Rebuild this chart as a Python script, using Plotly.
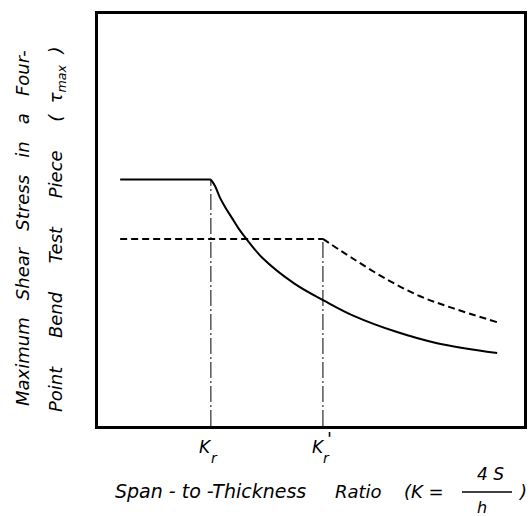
import plotly.graph_objects as go

# Values (arbitrary units: axis 0..100 both ways)
solid_k = [5.2, 26.5, 27.5, 28.6, 29.8, 31.5, 32.9, 35.0, 38.5, 46.2, 53.3, 59.9, 70.2, 79.6, 93.7]
solid_tau = [59.8, 59.8, 58.2, 55.5, 53.2, 50.4, 48.1, 45.2, 40.9, 34.5, 30.3, 26.8, 22.8, 20.1, 17.7]

dashed_k = [5.2, 52.8, 59.9, 67.8, 75.6, 83.3, 93.7]
dashed_tau = [45.4, 45.4, 40.6, 35.6, 31.5, 28.6, 25.2]

kr = 26.5
kr_prime = 52.8
kr_top = 59.8
kr_prime_top = 45.4

FONT = "DejaVu Sans"
W, H = 530, 516
L, R, T, B = 98, 6, 14, 90
pw, ph = W - L - R, H - T - B


def px_x(p):
    return (p - L) / pw


def px_y(p):
    return (H - B - p) / ph


fig = go.Figure()

# flat parts (linear) and falling parts (smooth)
fig.add_trace(go.Scatter(x=solid_k[:2], y=solid_tau[:2], mode="lines",
                         line=dict(color="black", width=2),
                         showlegend=False, hoverinfo="skip"))
fig.add_trace(go.Scatter(x=solid_k[1:], y=solid_tau[1:], mode="lines",
                         line=dict(color="black", width=2, shape="spline", smoothing=1.0),
                         showlegend=False, hoverinfo="skip"))
fig.add_trace(go.Scatter(x=dashed_k[:2], y=dashed_tau[:2], mode="lines",
                         line=dict(color="black", width=2, dash="7px,4px"),
                         showlegend=False, hoverinfo="skip"))
fig.add_trace(go.Scatter(x=dashed_k[1:], y=dashed_tau[1:], mode="lines",
                         line=dict(color="black", width=2, dash="7px,4px", shape="spline", smoothing=1.0),
                         showlegend=False, hoverinfo="skip"))
fig.add_trace(go.Scatter(x=[kr, kr], y=[0, kr_top], mode="lines",
                         line=dict(color="black", width=1, dash="16px,3px,2px,3px"),
                         showlegend=False, hoverinfo="skip"))
fig.add_trace(go.Scatter(x=[kr_prime, kr_prime], y=[0, kr_prime_top], mode="lines",
                         line=dict(color="black", width=1, dash="16px,3px,2px,3px"),
                         showlegend=False, hoverinfo="skip"))


def ann(text, x, y, size=17, xref="paper", xshift=0, angle=0, xanchor="center"):
    fig.add_annotation(text=text, x=x, y=y, xref=xref, yref="paper", showarrow=False,
                       textangle=angle, xanchor=xanchor, yanchor="middle", xshift=xshift,
                       font=dict(family=FONT, size=size, color="black"))


# tick labels (K_r, K'_r) anchored on the data positions
ann("<i>K</i>", kr, px_y(447), size=17, xref="x", xshift=-5)
ann("<i>r</i>", kr, px_y(458), size=14, xref="x", xshift=4)
ann("<i>K</i>", kr_prime, px_y(447), size=17, xref="x", xshift=-4)
ann("<i>r</i>", kr_prime, px_y(458), size=14, xref="x", xshift=4)
ann("<i>'</i>", kr_prime, px_y(438), size=18, xref="x", xshift=7)

# x title pieces
ann("<i>Span - to -Thickness</i>", px_x(113), px_y(491), size=19, xanchor="left")
ann("<i>Ratio</i>", px_x(333), px_y(491), size=18, xanchor="left")
ann("<i>(K =</i>", px_x(402), px_y(491), size=18, xanchor="left")
ann("<i>4 S</i>", px_x(490), px_y(474), size=17)
ann("<i>h</i>", px_x(482), px_y(508), size=16)
ann("<i>)</i>", px_x(522), px_y(491), size=18)

# y title lines
ann("<i>Maximum   Shear   Stress   in   a   Four-</i>", px_x(22), px_y(228), size=18, angle=-90)
ann("<i>Point     Bend     Test     Piece     (  τ<sub>max</sub>  )</i>", px_x(57), px_y(230), size=18, angle=-90)

# fraction bar
fig.add_shape(type="line", xref="paper", yref="paper",
              x0=px_x(462), x1=px_x(512), y0=px_y(492), y1=px_y(492),
              line=dict(color="black", width=1.5))

fig.update_xaxes(range=[0, 100], showgrid=False, zeroline=False, showticklabels=False,
                 ticks="", showline=True, linecolor="black", linewidth=3, mirror=True)
fig.update_yaxes(range=[0, 100], showgrid=False, zeroline=False, showticklabels=False,
                 ticks="", showline=True, linecolor="black", linewidth=3, mirror=True)

fig.update_layout(width=W, height=H, margin=dict(l=L, r=R, t=T, b=B, autoexpand=False),
                  paper_bgcolor="white", plot_bgcolor="white", showlegend=False)

fig.write_html("out.html", config={"displayModeBar": False},
               post_script="document.body.style.margin='0px';document.body.style.overflow='hidden';")
